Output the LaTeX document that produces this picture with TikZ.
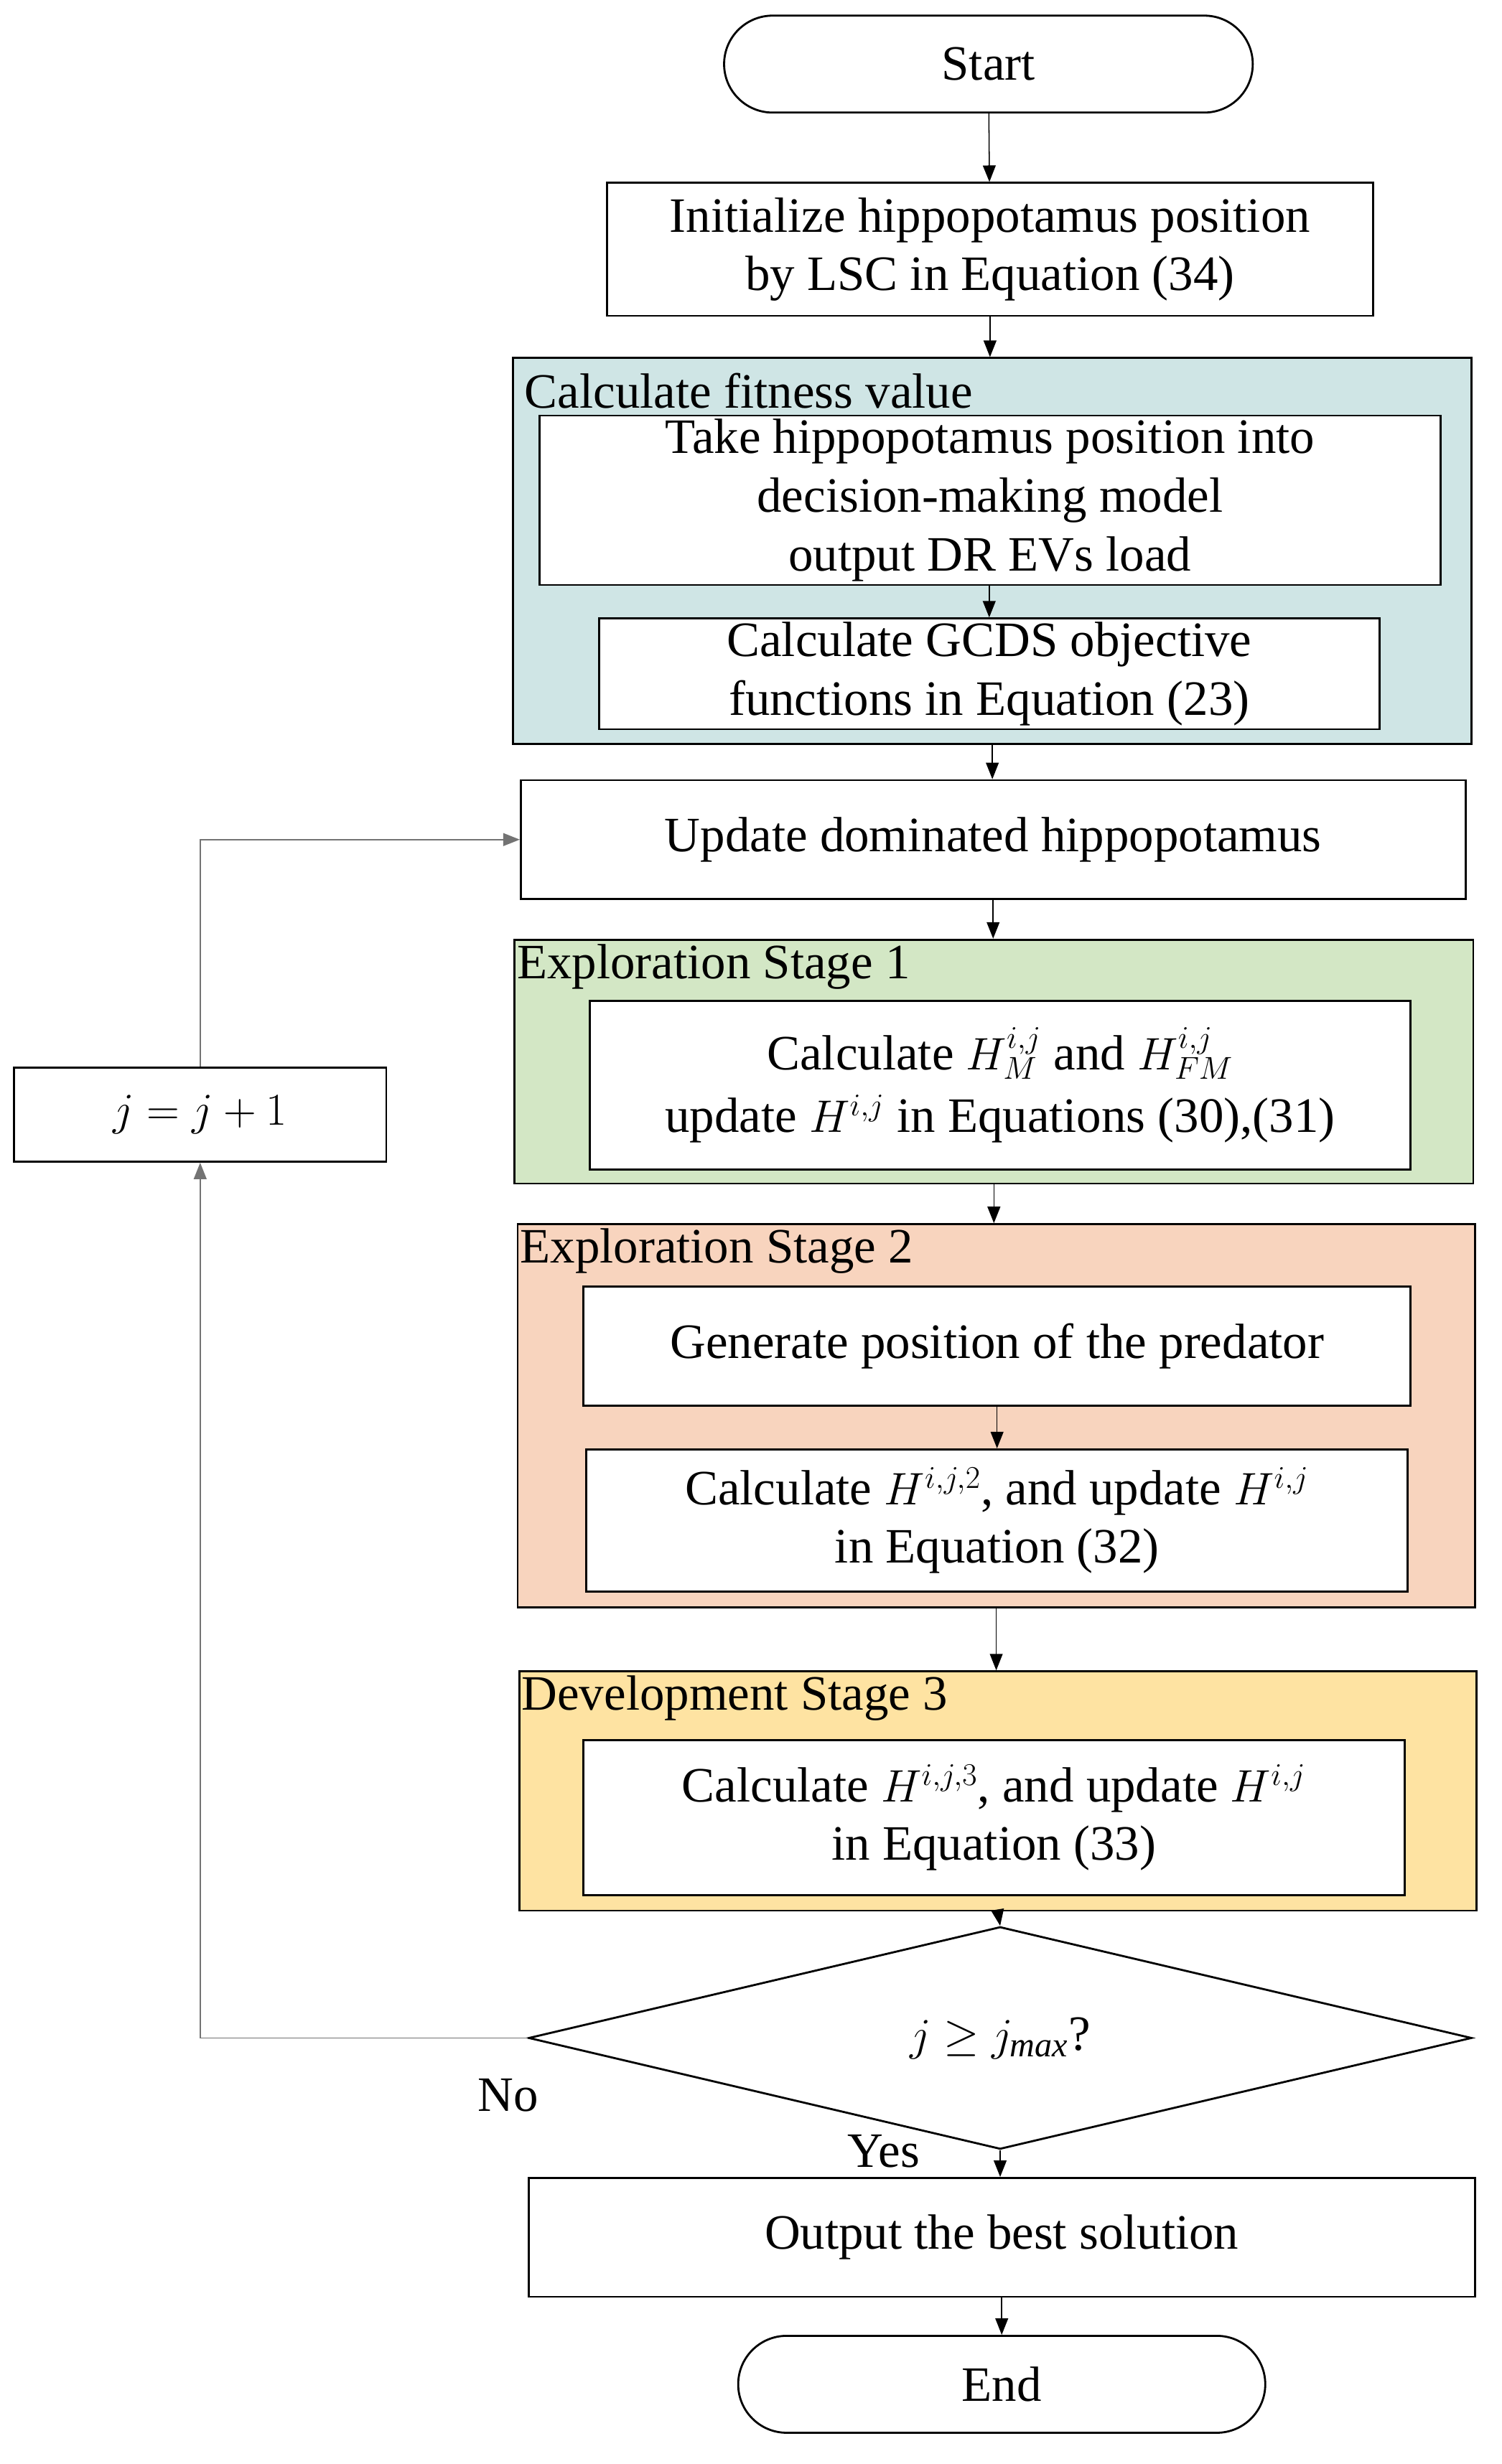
\documentclass[tikz,border=0pt]{standalone}
\usepackage{fontspec}
\setmainfont{Liberation Serif}
\usetikzlibrary{shapes.geometric,arrows.meta}
\definecolor{cteal}{HTML}{CFE5E5}
\definecolor{cgreen}{HTML}{D3E7C5}
\definecolor{corange}{HTML}{F8D4BE}
\definecolor{cyellow}{HTML}{FEE3A2}
\begin{document}
\begin{tikzpicture}[x=0.03cm,y=-0.03cm,
  font=\fontsize{27}{32}\selectfont,
  box/.style={draw, line width=1.1pt, fill=white, inner sep=2pt, align=center},
  grp/.style={draw, line width=1.1pt, inner sep=0pt},
  lab/.style={anchor=north west, inner sep=0pt, font=\fontsize{27}{32}\selectfont},
  arr/.style={-{Triangle[length=9pt,width=7pt]}, line width=0.6pt},
  loop/.style={-{Triangle[length=9pt,width=7pt]}, line width=0.6pt, draw=black!55}]
\useasboundingbox (0,0) rectangle (960,1576);
\node[box, rounded corners=0.93cm, minimum width=10.14cm, minimum height=1.86cm] (start) at (632,41) {Start};
\node[box, minimum width=14.7cm, minimum height=2.55cm] (init) at (633,159.5) {Initialize hippopotamus position\\by LSC in Equation (34)};
\node[grp, fill=cteal, minimum width=18.39cm, minimum height=7.41cm] (teal) at (634.5,352.5) {};
\node[lab] at ([xshift=0.24cm,yshift=-0.3cm]teal.north west) {Calculate fitness value};
\node[box, minimum width=17.28cm, minimum height=3.0cm] (tin1) at (633,320) {Take hippopotamus position into\\decision-making model\\output DR EVs load};
\node[box, minimum width=14.97cm, minimum height=2.04cm] (tin2) at (632.5,431) {Calculate GCDS objective\\functions in Equation (23)};
\node[box, minimum width=18.12cm, minimum height=2.28cm] (upd) at (635,537) {Update dominated hippopotamus};
\node[grp, fill=cgreen, minimum width=18.39cm, minimum height=4.68cm] (green) at (635.5,679) {};
\node[lab] at ([xshift=0.06cm,yshift=-0.1cm]green.north west) {Exploration Stage 1};
\node[box, minimum width=15.75cm, minimum height=3.24cm] (gin) at (639.5,694) {Calculate $H_{M}^{i,j}$ and $H_{FM}^{i,j}$\\[2pt] update $H^{i,j}$ in Equations (30),(31)};
\node[grp, fill=corange, minimum width=18.36cm, minimum height=7.35cm] (orange) at (637,905.5) {};
\node[lab] at ([xshift=0.06cm,yshift=-0.1cm]orange.north west) {Exploration Stage 2};
\node[box, minimum width=15.87cm, minimum height=2.28cm] (oin1) at (637.5,861) {Generate position of the predator};
\node[box, minimum width=15.75cm, minimum height=2.73cm] (oin2) at (637.5,972.5) {Calculate $H^{i,j,2}$, and update $H^{i,j}$\\in Equation (32)};
\node[grp, fill=cyellow, minimum width=18.36cm, minimum height=4.59cm] (yellow) at (638,1145.5) {};
\node[lab] at ([xshift=0.06cm,yshift=-0.1cm]yellow.north west) {Development Stage 3};
\node[box, minimum width=15.75cm, minimum height=2.97cm] (yin) at (635.5,1162.5) {Calculate $H^{i,j,3}$, and update $H^{i,j}$\\in Equation (33)};
\node[draw, line width=1.1pt, diamond, inner sep=0pt, minimum width=18.09cm, minimum height=3.27cm] (dec) at (639.5,1303.5) {$j \geq j_{\mathit{max}}$?};
\node[box, minimum width=18.15cm, minimum height=2.28cm] (out) at (640.5,1431) {Output the best solution};
\node[box, rounded corners=0.93cm, minimum width=10.11cm, minimum height=1.86cm] (end) at (640.5,1525) {End};
\node[box, minimum width=7.14cm, minimum height=1.8cm] (jb) at (128,713) {$j = j + 1$};
\node[inner sep=0pt] (no) at (325,1340) {No};
\node[inner sep=0pt] (yes) at (565,1376) {Yes};
\draw[arr] (start) -- (init);
\draw[arr] (init) -- (teal.north -| init);
\draw[arr] (tin1.south -| tin2) -- (tin2);
\draw[arr] (teal.south) -- (upd.north -| teal.south);
\draw[arr] (upd) -- (green.north -| upd);
\draw[arr] (green.south) -- (orange.north -| green.south);
\draw[arr] (oin1) -- (oin2);
\draw[arr] (orange.south) -- (yellow.north -| orange.south);
\draw[arr] (yellow.south) -- (dec.north);
\draw[arr] (dec.south) -- (out.north -| dec.south);
\draw[arr] (out) -- (end);
\draw[loop] (dec.west) -| (jb.south);
\draw[loop] (jb.north) |- (upd.west);
\end{tikzpicture}
\end{document}
